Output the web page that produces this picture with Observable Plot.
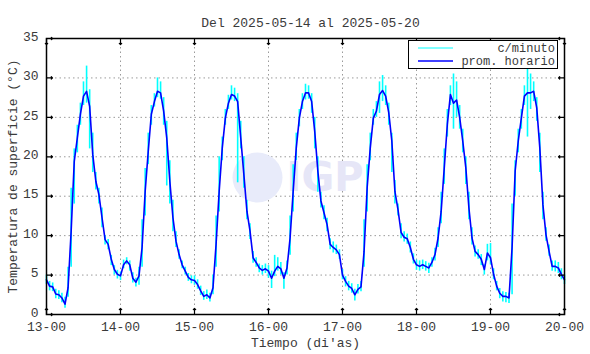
<!DOCTYPE html>
<html>
<head>
<meta charset="utf-8">
<script src="https://cdn.jsdelivr.net/npm/d3@7"></script>
<script src="https://cdn.jsdelivr.net/npm/@observablehq/plot@0.6"></script>
<style>
  html, body { margin: 0; padding: 0; background: #fff; }
  #chart { width: 590px; height: 354px; }
</style>
</head>
<body>
<div id="chart"></div>
<script>
// ---- data ----
const startDay = 13;                     // first tick: 13-00
const titleText = "Del 2025-05-14 al 2025-05-20";
const xLabel = "Tiempo (di'as)";
const yLabel = "Temperatura de superficie (°C)";
const seriesNames = ["c/minuto", "prom. horario"];
const xTicks = [13, 14, 15, 16, 17, 18, 19, 20];
const yTicks = [0, 5, 10, 15, 20, 25, 30, 35];

// hourly mean (prom. horario), one value per hour from 13-00 to 20-00
const hourlyMean = [
  4.4, 3.6, 3.5, 2.6, 2.5, 2.1, 1.3, 3.4, 10.6, 19.4, 22.4, 25.4, 27.7, 28.3, 26.4, 20.3, 16.9, 15.2, 12.3, 9.5, 8.9, 7.0, 5.7, 5.1,
  4.9, 6.3, 6.8, 6.3, 4.6, 4.1, 4.9, 8.5, 15.6, 20.7, 25.4, 27.0, 28.3, 28.1, 25.8, 22.4, 16.9, 12.3, 9.3, 7.6, 6.3, 5.5, 4.7, 4.4,
  4.3, 3.8, 3.0, 2.3, 2.5, 2.1, 3.4, 8.9, 15.6, 21.1, 24.9, 26.8, 27.9, 27.7, 27.0, 22.4, 17.8, 13.1, 10.6, 7.2, 6.6, 5.9, 5.6, 5.8,
  5.5, 4.6, 5.5, 6.1, 5.8, 4.6, 5.9, 9.7, 15.6, 21.1, 24.9, 27.0, 28.1, 28.1, 27.0, 23.2, 18.2, 14.4, 12.9, 11.4, 8.9, 8.5, 8.2, 7.6,
  5.0, 4.2, 3.6, 3.3, 2.5, 3.2, 3.5, 8.0, 16.1, 21.1, 24.9, 25.8, 27.9, 28.4, 27.7, 25.6, 22.0, 15.6, 13.3, 10.4, 9.8, 9.6, 8.5, 7.0,
  6.3, 6.1, 6.3, 6.1, 5.9, 6.6, 7.6, 9.7, 13.1, 18.6, 24.1, 27.9, 26.8, 27.2, 25.0, 22.0, 18.6, 13.5, 9.7, 8.0, 7.6, 7.0, 5.7, 7.8,
  7.2, 5.1, 3.6, 2.7, 2.3, 2.3, 2.1, 8.5, 18.2, 22.0, 24.9, 27.7, 28.1, 28.1, 28.3, 26.2, 21.1, 13.9, 10.1, 8.0, 6.1, 6.1, 5.9, 5.1,
  4.4
];
// lowest per-minute reading (c/minuto) in each hour
const minuteLow = [
  3.8, 3.0, 2.9, 2.0, 1.9, 1.5, 0.8, 2.2, 6.0, 14.0, 20.5, 24.0, 26.5, 26.8, 21.0, 18.0, 15.8, 14.0, 11.0, 8.8, 8.2, 6.2, 5.0, 4.5,
  4.3, 5.8, 6.3, 5.5, 4.0, 3.5, 3.7, 6.0, 12.5, 19.0, 24.0, 26.3, 27.5, 27.3, 24.0, 16.3, 14.0, 10.5, 8.5, 7.0, 5.8, 5.0, 4.2, 3.9,
  3.7, 3.2, 2.4, 1.8, 1.9, 1.6, 2.5, 6.0, 13.0, 19.5, 24.0, 26.0, 27.2, 27.0, 16.7, 21.0, 16.0, 12.0, 9.5, 6.5, 6.0, 5.3, 5.0, 5.2,
  4.6, 3.3, 4.8, 5.5, 5.0, 3.2, 5.0, 7.5, 13.0, 19.5, 23.8, 26.0, 27.2, 27.3, 25.5, 21.0, 15.5, 13.5, 12.0, 10.5, 8.2, 7.8, 7.6, 7.0,
  4.4, 3.5, 3.0, 2.7, 1.7, 2.6, 2.9, 6.0, 13.0, 19.5, 24.0, 25.0, 25.5, 27.0, 26.5, 24.0, 18.0, 14.0, 12.5, 9.6, 9.2, 8.9, 7.8, 6.4,
  5.6, 5.5, 5.7, 5.5, 5.2, 6.0, 6.8, 8.5, 11.5, 16.5, 22.5, 26.5, 23.5, 25.0, 23.5, 20.5, 16.5, 12.0, 8.8, 7.3, 7.0, 6.2, 5.0, 6.8,
  6.3, 4.4, 3.0, 2.0, 1.6, 1.5, 1.4, 2.5, 15.0, 20.5, 23.5, 26.5, 22.5, 26.0, 27.0, 24.5, 18.0, 12.0, 9.3, 7.4, 5.5, 5.4, 5.2, 4.4,
  3.8
];
// highest per-minute reading (c/minuto) in each hour
const minuteHigh = [
  5.0, 4.2, 4.0, 3.2, 3.0, 2.7, 2.2, 6.0, 16.0, 21.0, 24.0, 26.8, 29.5, 31.5, 28.5, 23.0, 18.0, 16.0, 13.5, 10.0, 9.5, 7.5, 6.2, 5.6,
  5.4, 6.9, 7.2, 6.8, 5.3, 4.6, 6.0, 12.0, 18.5, 23.0, 26.5, 28.0, 30.0, 29.5, 27.5, 24.5, 19.5, 14.5, 10.5, 8.2, 6.8, 6.0, 5.2, 4.9,
  4.9, 4.4, 3.6, 2.9, 3.1, 2.7, 5.0, 12.5, 20.0, 22.5, 26.0, 27.8, 29.0, 28.7, 28.0, 24.5, 20.0, 14.5, 11.5, 8.0, 7.2, 6.4, 6.2, 6.4,
  6.2, 5.5, 7.5, 7.2, 6.6, 5.3, 6.8, 12.5, 19.0, 23.0, 26.0, 28.0, 29.2, 29.0, 28.0, 25.0, 20.0, 15.5, 13.8, 12.2, 9.6, 9.2, 8.8, 8.2,
  5.7, 4.8, 4.2, 3.9, 3.2, 3.8, 4.2, 12.0, 19.0, 23.0, 26.0, 27.0, 29.5, 30.3, 29.0, 26.8, 23.0, 17.0, 14.0, 11.5, 10.5, 10.2, 9.2, 7.7,
  6.9, 6.8, 6.9, 6.7, 6.5, 7.2, 8.4, 11.0, 15.5, 21.0, 26.0, 29.0, 30.5, 29.5, 26.5, 23.5, 20.0, 15.5, 11.0, 8.7, 8.2, 7.6, 6.3, 8.9,
  9.0, 5.8, 4.2, 3.3, 2.9, 2.8, 2.7, 14.0, 19.5, 23.5, 26.0, 29.0, 31.9, 30.5, 29.5, 27.5, 23.0, 15.5, 11.0, 8.8, 6.8, 6.8, 6.6, 5.8,
  5.0
];

// ---- table built from the arrays ----
const rows = hourlyMean.map((v, i) => ({
  t: startDay + i / 24,
  mean: v,
  lo: minuteLow[i],
  hi: minuteHigh[i]
}));

const FONT = "'Liberation Mono', 'DejaVu Sans Mono', monospace";
const TXT = "#3a3a3a";
const CYAN = "#00ffff";
const BLUE = "#0000ff";

const chart = Plot.plot({
  width: 590,
  height: 354,
  marginLeft: 46,
  marginRight: 26,
  marginTop: 38,
  marginBottom: 40,
  style: { fontFamily: FONT, fontSize: "13px", color: TXT, background: "#fff", overflow: "visible" },
  x: { domain: [13, 20], label: null },
  y: { domain: [0, 35], label: null },
  marks: [
    // dotted grid
    Plot.gridX(xTicks.slice(1, -1), { stroke: "#9a9a9a", strokeOpacity: 1, strokeDasharray: "1.5,3", strokeWidth: 1 }),
    Plot.gridY(yTicks.slice(1, -1), { stroke: "#9a9a9a", strokeOpacity: 1, strokeDasharray: "1.5,3", strokeWidth: 1 }),
    // faint IGP watermark
    Plot.dot([0], { frameAnchor: "middle", dx: -48, dy: 1, r: 25, fill: "#e8ebfa", stroke: "none" }),
    Plot.text(["IGP"], { frameAnchor: "middle", dx: -19, dy: 2, textAnchor: "start", fontSize: 40, fontWeight: "bold", fontFamily: "'DejaVu Sans', sans-serif", fill: "#e6e6f7" }),
    // per-minute spread (cyan) and hourly mean (blue)
    Plot.ruleX(rows, { x: "t", y1: "lo", y2: "hi", stroke: CYAN, strokeWidth: 1.6 }),
    Plot.line(rows, { x: "t", y: "mean", stroke: BLUE, strokeWidth: 1.6, curve: "linear" }),
    // frame
    Plot.frame({ stroke: "#000", strokeWidth: 1.5 }),
    // inward ticks, all four sides
    Plot.vector(xTicks, { x: d => d, frameAnchor: "bottom", rotate: 0, length: 6, anchor: "start", stroke: "#000", strokeWidth: 1.2 }),
    Plot.vector(xTicks, { x: d => d, frameAnchor: "top", rotate: 180, length: 6, anchor: "start", stroke: "#000", strokeWidth: 1.2 }),
    Plot.vector(yTicks, { y: d => d, frameAnchor: "left", rotate: 90, length: 6, anchor: "start", stroke: "#000", strokeWidth: 1.2 }),
    Plot.vector(yTicks, { y: d => d, frameAnchor: "right", rotate: -90, length: 6, anchor: "start", stroke: "#000", strokeWidth: 1.2 }),
    // tick labels
    Plot.axisX(xTicks, { anchor: "bottom", tickSize: 0, tickPadding: 7, tickFormat: d => `${d}-00`, label: null, fontSize: 13 }),
    Plot.axisY(yTicks, { anchor: "left", tickSize: 0, tickPadding: 8, dy: -2, tickFormat: d => `${d}`, label: null, fontSize: 13 }),
    // titles
    Plot.text([titleText], { frameAnchor: "top", textAnchor: "middle", dx: 5, dy: -21, fontSize: 13, fill: TXT }),
    Plot.text([xLabel], { frameAnchor: "bottom", textAnchor: "middle", dy: 32, fontSize: 13, fill: TXT }),
    Plot.text([yLabel], { frameAnchor: "left", textAnchor: "middle", dx: -34, rotate: -90, fontSize: 13, fill: TXT })
  ]
});

document.getElementById("chart").appendChild(chart);

// legend box (top right inside the frame)
const svg = d3.select(chart);
const lg = svg.append("g").attr("font-family", FONT).attr("font-size", 12).attr("fill", TXT);
lg.append("rect").attr("x", 408.5).attr("y", 40.5).attr("width", 149).attr("height", 28)
  .attr("fill", "#fff").attr("stroke", "#000").attr("stroke-width", 1);
const legendColors = [CYAN, BLUE];
seriesNames.forEach((name, i) => {
  const y = 48 + i * 13;
  lg.append("line").attr("x1", 418).attr("x2", 453).attr("y1", y).attr("y2", y)
    .attr("stroke", legendColors[i]).attr("stroke-width", i === 0 ? 1 : 1.6);
  lg.append("text").attr("x", 555).attr("y", y).attr("dy", "0.35em").attr("text-anchor", "end").text(name);
});
</script>
</body>
</html>
